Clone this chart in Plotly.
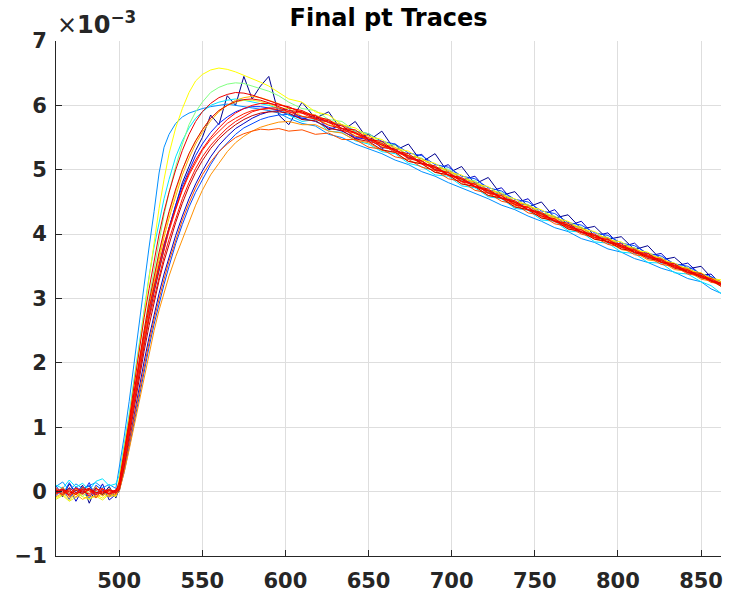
import plotly.graph_objects as go

# sample positions (x) shared by all traces
x_pts = [462, 466, 470, 474, 478, 482, 486, 490, 494, 498,
         500, 503, 506, 509, 512, 515, 518, 521, 524, 527, 530, 534, 538, 542, 546, 550,
         555, 560, 565, 570, 575, 580, 585, 590, 596,
         602, 610, 618, 626, 634, 642, 650, 658, 666, 674, 682, 690, 698, 706, 714, 722,
         730, 738, 746, 754, 762, 770, 778, 786, 794, 802, 810, 818, 826, 834, 842, 850, 856, 862]

# trace values in units of 1e-3
navy_a = [0.05, -0.08, 0.12, -0.03, 0.10, -0.18, 0.06, -0.05, 0.08, -0.10,
          0.05, 0.45, 0.9, 1.38, 1.85, 2.3, 2.72, 3.1, 3.45, 3.8, 4.1, 4.45, 4.8, 5.05, 5.3, 5.5,
          5.85, 5.7, 6.15, 6.0, 6.45, 6.1, 6.3, 6.45, 5.85,
          5.7, 6.05, 5.8, 5.9, 5.6, 5.75, 5.45, 5.6, 5.3, 5.4, 5.12, 5.25, 4.95, 5.05, 4.78, 4.88,
          4.6, 4.66, 4.42, 4.5, 4.25, 4.3, 4.08, 4.12, 3.92, 3.96, 3.76, 3.82, 3.6, 3.64, 3.46, 3.5, 3.33, 3.25]
navy_b = [0.02, -0.04, 0.06, -0.15, 0.04, 0.09, -0.06, 0.12, -0.13, -0.04,
          0.0, 0.35, 0.78, 1.2, 1.62, 2.02, 2.4, 2.75, 3.08, 3.38, 3.65, 3.98, 4.28, 4.55, 4.78, 4.98,
          5.2, 5.38, 5.52, 5.64, 5.72, 5.8, 5.86, 5.9, 5.92,
          5.95, 5.78, 5.85, 5.62, 5.7, 5.48, 5.55, 5.33, 5.4, 5.18, 5.24, 5.0, 5.08, 4.84, 4.9, 4.66,
          4.72, 4.48, 4.55, 4.3, 4.38, 4.13, 4.2, 3.97, 4.02, 3.8, 3.86, 3.66, 3.7, 3.5, 3.55, 3.36, 3.38, 3.22]
blue_a = [-0.06, 0.04, -0.12, 0.08, -0.02, 0.14, -0.09, 0.03, -0.05, 0.02,
          0.1, 0.52, 1.0, 1.5, 1.98, 2.42, 2.82, 3.18, 3.52, 3.82, 4.1, 4.45, 4.75, 5.0, 5.22, 5.4,
          5.58, 5.72, 5.82, 5.9, 5.95, 5.98, 5.98, 5.96, 5.92,
          5.85, 5.8, 5.75, 5.66, 5.6, 5.5, 5.47, 5.35, 5.32, 5.18, 5.14, 5.0, 4.97, 4.83, 4.8, 4.65,
          4.62, 4.48, 4.45, 4.3, 4.27, 4.13, 4.1, 3.97, 3.94, 3.8, 3.78, 3.64, 3.62, 3.49, 3.47, 3.33, 3.31, 3.22]
blue_b = [0.09, -0.05, 0.14, -0.02, 0.07, -0.11, 0.10, 0.02, -0.08, 0.0,
          0.02, 0.3, 0.68, 1.08, 1.48, 1.88, 2.25, 2.6, 2.92, 3.22, 3.5, 3.85, 4.15, 4.42, 4.65, 4.85,
          5.08, 5.28, 5.42, 5.55, 5.65, 5.72, 5.78, 5.82, 5.85,
          5.86, 5.82, 5.8, 5.74, 5.7, 5.6, 5.56, 5.44, 5.4, 5.26, 5.22, 5.08, 5.04, 4.9, 4.86, 4.72,
          4.67, 4.54, 4.5, 4.36, 4.32, 4.18, 4.14, 4.02, 3.98, 3.86, 3.82, 3.7, 3.66, 3.54, 3.5, 3.38, 3.34, 3.26]
sky_a = [0.08, 0.15, 0.02, 0.12, 0.05, 0.10, 0.14, 0.06, 0.11, 0.05,
         0.35, 0.85, 1.4, 2.0, 2.65, 3.25, 3.8, 4.35, 4.95, 5.35, 5.55, 5.72, 5.82, 5.88, 5.92, 5.95,
         5.98, 6.0, 6.02, 6.0, 5.98, 5.97, 5.95, 5.92, 5.88,
         5.8, 5.72, 5.68, 5.55, 5.5, 5.4, 5.33, 5.25, 5.15, 5.08, 4.97, 4.9, 4.8, 4.72, 4.63, 4.55,
         4.45, 4.38, 4.28, 4.2, 4.1, 4.04, 3.93, 3.87, 3.77, 3.72, 3.62, 3.56, 3.47, 3.41, 3.31, 3.26, 3.15, 3.08]
cyan_a = [0.10, 0.05, 0.18, 0.07, 0.13, 0.02, 0.16, 0.20, 0.09, 0.12,
          0.25, 0.7, 1.2, 1.75, 2.3, 2.85, 3.35, 3.8, 4.2, 4.55, 4.85, 5.2, 5.45, 5.65, 5.8, 5.9,
          6.0, 6.05, 6.08, 6.1, 6.08, 6.05, 6.02, 6.0, 5.95,
          5.85, 5.75, 5.78, 5.6, 5.58, 5.45, 5.4, 5.28, 5.25, 5.1, 5.05, 4.92, 4.9, 4.75, 4.72, 4.58,
          4.55, 4.4, 4.37, 4.22, 4.2, 4.05, 4.03, 3.88, 3.86, 3.72, 3.7, 3.56, 3.55, 3.4, 3.38, 3.26, 3.2, 3.08]
green_a = [-0.05, 0.06, -0.02, 0.04, -0.08, 0.03, 0.0, -0.06, 0.05, -0.02,
           0.15, 0.55, 1.05, 1.55, 2.05, 2.55, 3.0, 3.45, 3.9, 4.3, 4.65, 5.05, 5.4, 5.7, 5.9, 6.05,
           6.2, 6.28, 6.33, 6.35, 6.34, 6.3, 6.27, 6.22, 6.15,
           6.05, 5.95, 5.92, 5.78, 5.75, 5.6, 5.56, 5.42, 5.38, 5.22, 5.18, 5.04, 5.01, 4.86, 4.83, 4.68,
           4.65, 4.5, 4.46, 4.33, 4.28, 4.15, 4.11, 3.98, 3.95, 3.82, 3.79, 3.66, 3.63, 3.5, 3.48, 3.35, 3.32, 3.25]
yellow_a = [-0.10, -0.04, -0.14, -0.02, -0.08, -0.12, -0.05, -0.10, -0.03, -0.07,
            0.2, 0.65, 1.15, 1.7, 2.25, 2.8, 3.35, 3.9, 4.4, 4.85, 5.25, 5.65, 5.95, 6.2, 6.38, 6.48,
            6.55, 6.58, 6.56, 6.52, 6.47, 6.42, 6.36, 6.3, 6.2,
            6.1, 6.05, 5.9, 5.85, 5.7, 5.65, 5.52, 5.47, 5.33, 5.29, 5.15, 5.1, 4.96, 4.92, 4.78, 4.74,
            4.6, 4.55, 4.43, 4.38, 4.25, 4.2, 4.08, 4.04, 3.91, 3.88, 3.75, 3.72, 3.6, 3.55, 3.44, 3.4, 3.31, 3.29]
yellow_b = [-0.12, -0.06, -0.15, -0.08, -0.02, -0.11, -0.07, -0.13, -0.04, -0.08,
            0.12, 0.55, 1.02, 1.5, 1.98, 2.45, 2.9, 3.3, 3.68, 4.02, 4.32, 4.68, 5.0, 5.25, 5.45, 5.62,
            5.8, 5.92, 6.0, 6.05, 6.08, 6.08, 6.06, 6.02, 5.96,
            5.95, 5.83, 5.8, 5.7, 5.65, 5.53, 5.48, 5.37, 5.3, 5.2, 5.13, 5.02, 4.96, 4.84, 4.78, 4.66,
            4.6, 4.48, 4.42, 4.3, 4.25, 4.12, 4.08, 3.96, 3.91, 3.81, 3.76, 3.65, 3.61, 3.5, 3.46, 3.35, 3.3, 3.25]
orange_c = [-0.08, -0.02, -0.10, -0.04, -0.12, -0.06, -0.09, -0.03, -0.08, -0.05,
            0.08, 0.5, 0.98, 1.48, 1.95, 2.42, 2.85, 3.25, 3.62, 3.95, 4.25, 4.6, 4.92, 5.18, 5.4, 5.58,
            5.76, 5.9, 6.0, 6.08, 6.12, 6.14, 6.12, 6.08, 6.02,
            5.97, 5.9, 5.85, 5.76, 5.7, 5.58, 5.53, 5.4, 5.35, 5.22, 5.17, 5.04, 4.99, 4.86, 4.81, 4.68,
            4.63, 4.5, 4.45, 4.32, 4.27, 4.15, 4.1, 3.98, 3.94, 3.82, 3.78, 3.67, 3.63, 3.51, 3.47, 3.36, 3.32, 3.26]
orange_a = [0.04, -0.06, 0.02, -0.09, 0.05, -0.03, 0.08, -0.07, 0.01, -0.05,
            0.0, 0.3, 0.65, 1.02, 1.4, 1.78, 2.15, 2.5, 2.82, 3.1, 3.35, 3.65, 3.92, 4.2, 4.45, 4.68,
            4.92, 5.1, 5.28, 5.42, 5.52, 5.6, 5.66, 5.7, 5.74,
            5.75, 5.7, 5.7, 5.6, 5.57, 5.46, 5.42, 5.3, 5.27, 5.13, 5.1, 4.96, 4.92, 4.78, 4.74, 4.6,
            4.57, 4.43, 4.38, 4.25, 4.22, 4.08, 4.04, 3.92, 3.88, 3.76, 3.72, 3.6, 3.57, 3.45, 3.42, 3.3, 3.27, 3.19]
orange_b = [-0.03, 0.07, -0.08, 0.03, -0.05, 0.06, -0.1, 0.04, -0.06, 0.0,
            0.02, 0.35, 0.75, 1.15, 1.55, 1.95, 2.32, 2.68, 3.0, 3.3, 3.58, 3.92, 4.22, 4.48, 4.72, 4.92,
            5.12, 5.28, 5.4, 5.5, 5.56, 5.6, 5.63, 5.62, 5.64,
            5.6, 5.62, 5.55, 5.57, 5.47, 5.47, 5.35, 5.32, 5.2, 5.16, 5.04, 4.99, 4.86, 4.82, 4.68, 4.64,
            4.51, 4.47, 4.33, 4.29, 4.16, 4.12, 4.0, 3.95, 3.84, 3.8, 3.68, 3.65, 3.53, 3.5, 3.38, 3.35, 3.25, 3.23]
darkred_a = [-0.02, 0.01, -0.05, 0.02, -0.03, 0.04, -0.01, -0.04, 0.02, -0.02,
             0.03, 0.4, 0.85, 1.3, 1.75, 2.18, 2.58, 2.94, 3.28, 3.58, 3.85, 4.18, 4.48, 4.74, 4.96, 5.14,
             5.33, 5.48, 5.6, 5.7, 5.78, 5.84, 5.88, 5.9, 5.9,
             5.88, 5.78, 5.76, 5.64, 5.61, 5.48, 5.44, 5.31, 5.27, 5.13, 5.09, 4.96, 4.92, 4.78, 4.74, 4.6,
             4.56, 4.42, 4.38, 4.25, 4.21, 4.08, 4.04, 3.92, 3.89, 3.77, 3.74, 3.62, 3.59, 3.47, 3.43, 3.32, 3.29, 3.19]
red_d = [0.06, -0.02, 0.03, -0.05, 0.07, 0.01, -0.03, 0.04, -0.01, 0.02,
         0.08, 0.48, 0.95, 1.45, 1.92, 2.36, 2.76, 3.12, 3.46, 3.77, 4.05, 4.38, 4.68, 4.92, 5.12, 5.3,
         5.47, 5.6, 5.72, 5.8, 5.87, 5.92, 5.94, 5.95, 5.93,
         5.9, 5.83, 5.79, 5.69, 5.64, 5.52, 5.48, 5.35, 5.31, 5.17, 5.13, 4.99, 4.95, 4.81, 4.77, 4.63,
         4.59, 4.45, 4.41, 4.27, 4.23, 4.1, 4.06, 3.94, 3.91, 3.79, 3.75, 3.64, 3.6, 3.48, 3.44, 3.33, 3.29, 3.21]
red_b = [-0.04, 0.02, -0.06, 0.05, -0.01, 0.03, -0.05, 0.0, 0.04, -0.03,
         0.05, 0.45, 0.92, 1.4, 1.85, 2.28, 2.68, 3.02, 3.35, 3.65, 3.92, 4.25, 4.55, 4.8, 5.02, 5.2,
         5.38, 5.52, 5.65, 5.75, 5.83, 5.9, 5.94, 5.96, 5.96,
         5.9, 5.88, 5.78, 5.74, 5.61, 5.57, 5.44, 5.39, 5.27, 5.21, 5.09, 5.03, 4.91, 4.85, 4.73, 4.67,
         4.55, 4.49, 4.37, 4.31, 4.19, 4.14, 4.02, 3.98, 3.87, 3.83, 3.71, 3.68, 3.56, 3.52, 3.4, 3.36, 3.27, 3.22]
red_e = [-0.01, 0.03, 0.0, -0.04, 0.02, 0.05, -0.02, 0.01, -0.03, 0.03,
         0.1, 0.55, 1.05, 1.55, 2.05, 2.5, 2.95, 3.35, 3.72, 4.05, 4.35, 4.7, 5.0, 5.25, 5.45, 5.62,
         5.8, 5.92, 6.0, 6.06, 6.09, 6.1, 6.08, 6.04, 5.98,
         5.92, 5.9, 5.8, 5.76, 5.64, 5.58, 5.47, 5.41, 5.29, 5.22, 5.1, 5.04, 4.92, 4.86, 4.74, 4.68,
         4.56, 4.5, 4.38, 4.32, 4.2, 4.14, 4.03, 3.98, 3.87, 3.82, 3.71, 3.66, 3.56, 3.51, 3.4, 3.36, 3.27, 3.22]
red_a = [0.03, -0.05, 0.06, -0.02, 0.04, -0.07, 0.02, 0.05, -0.04, 0.01,
         0.05, 0.5, 1.0, 1.5, 2.0, 2.45, 2.85, 3.2, 3.55, 3.85, 4.1, 4.4, 4.7, 4.95, 5.15, 5.32,
         5.5, 5.65, 5.78, 5.88, 5.95, 6.0, 6.03, 6.03, 6.0,
         5.98, 5.88, 5.84, 5.73, 5.68, 5.56, 5.5, 5.38, 5.32, 5.19, 5.14, 5.0, 4.96, 4.82, 4.78, 4.64,
         4.6, 4.46, 4.42, 4.28, 4.24, 4.11, 4.07, 3.95, 3.92, 3.8, 3.76, 3.65, 3.61, 3.49, 3.45, 3.34, 3.31, 3.23]
red_c = [0.01, 0.04, -0.03, 0.06, 0.0, -0.04, 0.05, -0.02, 0.03, 0.0,
         0.15, 0.6, 1.1, 1.65, 2.2, 2.7, 3.15, 3.6, 4.0, 4.35, 4.65, 5.0, 5.3, 5.55, 5.75, 5.9,
         6.03, 6.12, 6.17, 6.2, 6.19, 6.16, 6.12, 6.08, 6.02,
         5.96, 5.92, 5.82, 5.78, 5.64, 5.62, 5.47, 5.44, 5.29, 5.25, 5.1, 5.06, 4.92, 4.88, 4.74, 4.7,
         4.56, 4.52, 4.38, 4.34, 4.2, 4.17, 4.03, 4.0, 3.87, 3.85, 3.72, 3.7, 3.57, 3.54, 3.41, 3.39, 3.28, 3.24]

series = [navy_a, navy_b, blue_a, blue_b, sky_a, cyan_a, green_a, yellow_a, yellow_b,
          orange_c, orange_a, orange_b, darkred_a, red_d, red_b, red_e, red_a, red_c]
series_colors = ["#00008F", "#0000C8", "#0020FF", "#0048FF", "#0090FF", "#00E5FF",
                 "#7FFF80", "#FFFF00", "#E8F020", "#FFB000", "#FF9000", "#FF5000",
                 "#C00000", "#FF2000", "#FF1000", "#E80000", "#FF0000", "#EE0000"]

x_ticks = [500, 550, 600, 650, 700, 750, 800, 850]
y_ticks = [-1, 0, 1, 2, 3, 4, 5, 6, 7]

fig = go.Figure()
for vals, col in zip(series, series_colors):
    fig.add_trace(go.Scatter(x=x_pts, y=vals, mode="lines",
                             line=dict(color=col, width=1), showlegend=False,
                             hoverinfo="skip"))

axis_font = dict(family="DejaVu Sans", size=21, color="#262626", weight="bold")
fig.update_layout(
    width=736, height=605,
    margin=dict(l=56, r=15, t=41, b=37),
    paper_bgcolor="white", plot_bgcolor="white",
    title=dict(text="<b>Final pt Traces</b>", x=0.528, xanchor="center",
               y=0.985, yanchor="top",
               font=dict(family="DejaVu Sans", size=24, color="black")),
    xaxis=dict(range=[462, 862], tickvals=x_ticks, ticks="inside", ticklen=6,
               tickcolor="#262626", showline=True, linecolor="#262626", linewidth=1,
               showgrid=True, gridcolor="#dedede", gridwidth=1, zeroline=False,
               tickfont=axis_font, ticklabelstandoff=6),
    yaxis=dict(range=[-1, 7], tickvals=y_ticks,
               ticktext=["\u22121", "0", "1", "2", "3", "4", "5", "6", "7"],
               ticks="inside", ticklen=6,
               tickcolor="#262626", showline=True, linecolor="#262626", linewidth=1,
               showgrid=True, gridcolor="#dedede", gridwidth=1, zeroline=False,
               tickfont=axis_font, ticklabelstandoff=4),
    annotations=[dict(text="\u00d7<b>10</b><sup><b>\u22123</b></sup>", xref="paper", yref="paper",
                      x=0, y=1, xanchor="left", yanchor="bottom", showarrow=False,
                      xshift=-1, yshift=0,
                      font=dict(family="DejaVu Sans", size=24, color="#262626"))],
)

fig.write_html("out.html")
